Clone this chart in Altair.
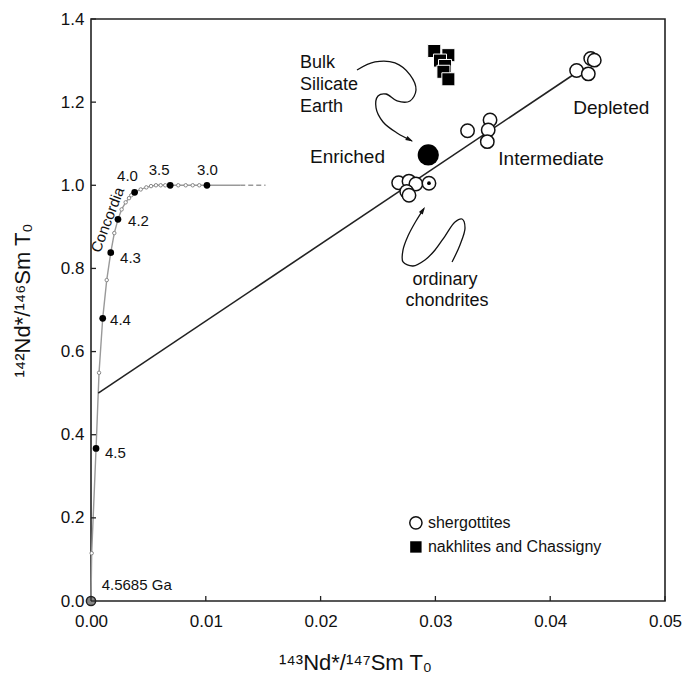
import altair as alt
import pandas as pd

W, H = 574, 582
FONT = "Liberation Sans"

# ---------------- data ----------------
# Concordia curve (x = 143Nd*/147Sm, y = 142Nd*/146Sm)
conc_x = [0.0, 0.00006, 0.00044, 0.0007, 0.00102, 0.00137, 0.00172, 0.00203, 0.00235,
          0.00267, 0.00302, 0.00331, 0.00351, 0.0038, 0.00433, 0.00482, 0.00523, 0.00566,
          0.00607, 0.00647, 0.0069, 0.0076, 0.00825, 0.00886, 0.00943, 0.0101, 0.013]
conc_y = [0.0, 0.115, 0.367, 0.549, 0.680, 0.772, 0.838, 0.885, 0.918,
          0.942, 0.959, 0.969, 0.976, 0.983, 0.990, 0.995, 0.998, 1.0,
          1.0, 1.0, 1.0, 1.0, 1.0, 1.0, 1.0, 1.0, 1.0]
conc_kind = ["origin", "open", "age", "open", "age", "open", "age", "open", "age",
             "open", "open", "open", "open", "age", "open", "open", "open", "open",
             "open", "open", "age", "open", "open", "open", "open", "age", "end"]
conc_dash_x = [0.013, 0.0152]
conc_dash_y = [1.0, 1.0]

# Age labels on concordia (Ga)
age_text = ["4.0", "3.5", "3.0", "4.2", "4.3", "4.4", "4.5", "4.5685 Ga"]
age_x = [0.00318, 0.00593, 0.01015, 0.00323, 0.00253, 0.00166, 0.00122, 0.00093]
age_y = [1.023, 1.037, 1.037, 0.914, 0.826, 0.676, 0.357, 0.038]
age_align = ["center", "center", "center", "left", "left", "left", "left", "left"]

# Isochron
iso_x = [0.00063, 0.0425]
iso_y = [0.50, 1.275]

# Shergottites
sherg_x = [0.0268, 0.0277, 0.0283, 0.0275, 0.0277,
           0.0328, 0.03476, 0.0346, 0.03452,
           0.0423, 0.04353, 0.04384, 0.04332]
sherg_y = [1.006, 1.010, 1.003, 0.985, 0.976,
           1.131, 1.157, 1.133, 1.105,
           1.276, 1.305, 1.301, 1.268]

# Ordinary chondrites, bulk silicate Earth
chond_x, chond_y = [0.02944], [1.005]
bse_x, bse_y = [0.02938], [1.073]

# Nakhlites and Chassigny
nak_x = [0.0299, 0.03113, 0.0304, 0.03084, 0.0307, 0.03113]
nak_y = [1.323, 1.313, 1.300, 1.287, 1.273, 1.255]

# Curved arrows
bse_arrow_x = [0.02317, 0.02474, 0.02648, 0.02779, 0.02831, 0.02779, 0.02666, 0.02570,
               0.02500, 0.02483, 0.02544, 0.02666, 0.02796]
bse_arrow_y = [1.2774, 1.2966, 1.2942, 1.2654, 1.2293, 1.2028, 1.2028, 1.2196,
               1.2148, 1.1860, 1.1523, 1.1258, 1.1066]
ch_arrow_x = [0.03145, 0.03214, 0.03258, 0.03232, 0.03171, 0.03084, 0.02997, 0.02909,
              0.02805, 0.02718, 0.02718, 0.02761, 0.02831, 0.02900]
ch_arrow_y = [0.8155, 0.8564, 0.8973, 0.9189, 0.9117, 0.8780, 0.8444, 0.8203,
              0.8059, 0.8155, 0.8444, 0.8780, 0.9141, 0.9440]
tips_x = [0.02805, 0.02909]
tips_y = [1.1053, 0.9478]
tips_angle = [118, 33]

# Annotations
ann_text = ["Bulk", "Silicate", "Earth", "Enriched", "Intermediate", "Depleted",
            "ordinary", "chondrites"]
ann_x = [0.0182, 0.0182, 0.0182, 0.02234, 0.03548, 0.04201, 0.03084, 0.03101]
ann_y = [1.294, 1.241, 1.188, 1.069, 1.063, 1.186, 0.772, 0.721]
ann_align = ["left", "left", "left", "center", "left", "left", "center", "center"]
ann_size = [18, 18, 18, 19, 19, 19, 18, 18]

# Legend
leg_x = [0.0283, 0.0283]
leg_y = [0.188, 0.130]
leg_text = ["shergottites", "nakhlites and Chassigny"]

x_ticks = [0.0, 0.01, 0.02, 0.03, 0.04, 0.05]
y_ticks = [0.0, 0.2, 0.4, 0.6, 0.8, 1.0, 1.2, 1.4]

# ---------------- chart ----------------
xs = alt.Scale(domain=[0, 0.05], nice=False, zero=False)
ys = alt.Scale(domain=[0, 1.4], nice=False, zero=False)

xaxis = alt.Axis(values=x_ticks, format=".2f", ticks=False, tickSize=0, grid=False, domain=False,
                 labelFont=FONT, labelFontSize=17, labelColor="#111", labelPadding=12,
                 labelFlush=False, labelOverlap=False,
                 title="¹⁴³Nd*/¹⁴⁷Sm T₀", titleFont=FONT, titleFontSize=22,
                 titleFontWeight="normal", titleColor="#111",
                 titleX=264, titleY=68, titleAlign="center", titleBaseline="alphabetic")
yaxis = alt.Axis(values=y_ticks, format=".1f", ticks=False, tickSize=0, grid=False, domain=False,
                 labelFont=FONT, labelFontSize=17, labelColor="#111", labelPadding=7,
                 labelOverlap=False,
                 title="¹⁴²Nd*/¹⁴⁶Sm T₀", titleFont=FONT, titleFontSize=22,
                 titleFontWeight="normal", titleColor="#111",
                 titleX=-57, titleY=H / 2 - 10, titleAngle=270, titleAlign="center",
                 titleBaseline="bottom")


def X(f="x"):
    return alt.X(f"{f}:Q", scale=xs, axis=xaxis)


def Y(f="y"):
    return alt.Y(f"{f}:Q", scale=ys, axis=yaxis)


conc = pd.DataFrame({"x": conc_x, "y": conc_y, "kind": conc_kind, "o": range(len(conc_x))})
conc_dash = pd.DataFrame({"x": conc_dash_x, "y": conc_dash_y})
iso = pd.DataFrame({"x": iso_x, "y": iso_y})
sherg = pd.DataFrame({"x": sherg_x, "y": sherg_y})
chond = pd.DataFrame({"x": chond_x, "y": chond_y})
bse = pd.DataFrame({"x": bse_x, "y": bse_y})
nak = pd.DataFrame({"x": nak_x, "y": nak_y})
bse_arrow = pd.DataFrame({"x": bse_arrow_x, "y": bse_arrow_y, "o": range(len(bse_arrow_x))})
ch_arrow = pd.DataFrame({"x": ch_arrow_x, "y": ch_arrow_y, "o": range(len(ch_arrow_x))})
tips = pd.DataFrame({"x": tips_x, "y": tips_y, "a": tips_angle})
ann = pd.DataFrame({"x": ann_x, "y": ann_y, "t": ann_text, "al": ann_align, "s": ann_size})
ages = pd.DataFrame({"x": age_x, "y": age_y, "t": age_text, "al": age_align})
leg = pd.DataFrame({"x": leg_x, "y": leg_y, "t": leg_text, "k": ["circle", "square"]})
xt = pd.DataFrame({"x": x_ticks})
yt = pd.DataFrame({"y": y_ticks})

layers = []
layers.append(alt.Chart(conc).mark_line(color="#999", strokeWidth=1.4).encode(
    x=X(), y=Y(), order="o:Q"))
layers.append(alt.Chart(conc_dash).mark_line(color="#999", strokeWidth=1.4, strokeDash=[5, 3]).encode(
    x=X(), y=Y()))
layers.append(alt.Chart(iso).mark_line(color="#222", strokeWidth=1.6).encode(x=X(), y=Y()))

for arr in (bse_arrow, ch_arrow):
    layers.append(alt.Chart(arr).mark_line(color="#111", strokeWidth=1.3,
                                           interpolate="catmull-rom").encode(
        x=X(), y=Y(), order="o:Q"))
layers.append(alt.Chart(tips).mark_point(shape="M0,0L0.55,1.8L-0.55,1.8Z", filled=True,
                                         color="#111", size=70, opacity=1).encode(
    x=X(), y=Y(), angle=alt.Angle("a:Q", scale=None)))

layers.append(alt.Chart(conc).transform_filter("datum.kind == 'open'").mark_point(
    shape="circle", filled=True, fill="white", stroke="#888", strokeWidth=1, size=12, opacity=1).encode(
    x=X(), y=Y()))
layers.append(alt.Chart(conc).transform_filter("datum.kind == 'age'").mark_point(
    shape="circle", filled=True, color="black", size=45, opacity=1).encode(x=X(), y=Y()))
layers.append(alt.Chart(conc).transform_filter("datum.kind == 'origin'").mark_point(
    shape="circle", filled=True, fill="#888", stroke="#222", strokeWidth=1.5, size=85, opacity=1).encode(
    x=X(), y=Y()))

layers.append(alt.Chart(nak).mark_point(shape="square", filled=True, fill="black", stroke="white",
                                        strokeWidth=1, size=170, opacity=1).encode(x=X(), y=Y()))
layers.append(alt.Chart(sherg).mark_point(shape="circle", filled=True, fill="white", stroke="#111",
                                          strokeWidth=1.5, size=180, opacity=1).encode(x=X(), y=Y()))
layers.append(alt.Chart(chond).mark_point(shape="circle", filled=True, fill="white", stroke="#111",
                                          strokeWidth=1.5, size=180, opacity=1).encode(x=X(), y=Y()))
layers.append(alt.Chart(chond).mark_point(shape="circle", filled=True, color="black", size=14,
                                          opacity=1).encode(x=X(), y=Y()))
layers.append(alt.Chart(bse).mark_point(shape="circle", filled=True, color="black", size=450,
                                        opacity=1).encode(x=X(), y=Y()))

# annotations
for al in ("left", "center"):
    for s in (18, 19):
        sub = ann[(ann.al == al) & (ann.s == s)]
        if len(sub):
            layers.append(alt.Chart(sub).mark_text(font=FONT, fontSize=s, align=al, baseline="middle",
                                                   color="#111").encode(x=X(), y=Y(), text="t:N"))
for al in ("left", "center"):
    sub = ages[ages.al == al]
    layers.append(alt.Chart(sub).mark_text(font=FONT, fontSize=15, align=al, baseline="middle",
                                           color="#111").encode(x=X(), y=Y(), text="t:N"))
layers.append(alt.Chart(pd.DataFrame({"x": [0.00144], "y": [0.917], "t": ["Concordia"]})).mark_text(
    font=FONT, fontSize=15, align="center", baseline="middle", angle=291, color="#111").encode(
    x=X(), y=Y(), text="t:N"))

# legend
layers.append(alt.Chart(leg).transform_filter("datum.k == 'circle'").mark_point(
    shape="circle", filled=True, fill="white", stroke="#111", strokeWidth=1.5, size=150, opacity=1).encode(
    x=X(), y=Y()))
layers.append(alt.Chart(leg).transform_filter("datum.k == 'square'").mark_point(
    shape="square", filled=True, color="black", size=130, opacity=1).encode(x=X(), y=Y()))
layers.append(alt.Chart(leg).mark_text(font=FONT, fontSize=16, align="left", baseline="middle", dx=12,
                                       color="#111").encode(x=X(), y=Y(), text="t:N"))

# inward ticks
layers.append(alt.Chart(xt).mark_rule(color="#222", strokeWidth=1.3).encode(
    x=X(), y=alt.value(H), y2=alt.value(H - 5)))
layers.append(alt.Chart(yt).mark_rule(color="#222", strokeWidth=1.3).encode(
    y=Y(), x=alt.value(0), x2=alt.value(5)))

chart = alt.layer(*layers).properties(
    width=W, height=H,
    autosize=alt.AutoSizeParams(type="none"),
    padding={"left": 83, "top": 11, "right": 20, "bottom": 76},
).configure_view(stroke="#222", strokeWidth=1.6)

chart.save("out.html", embed_options={"renderer": "svg", "actions": False})
